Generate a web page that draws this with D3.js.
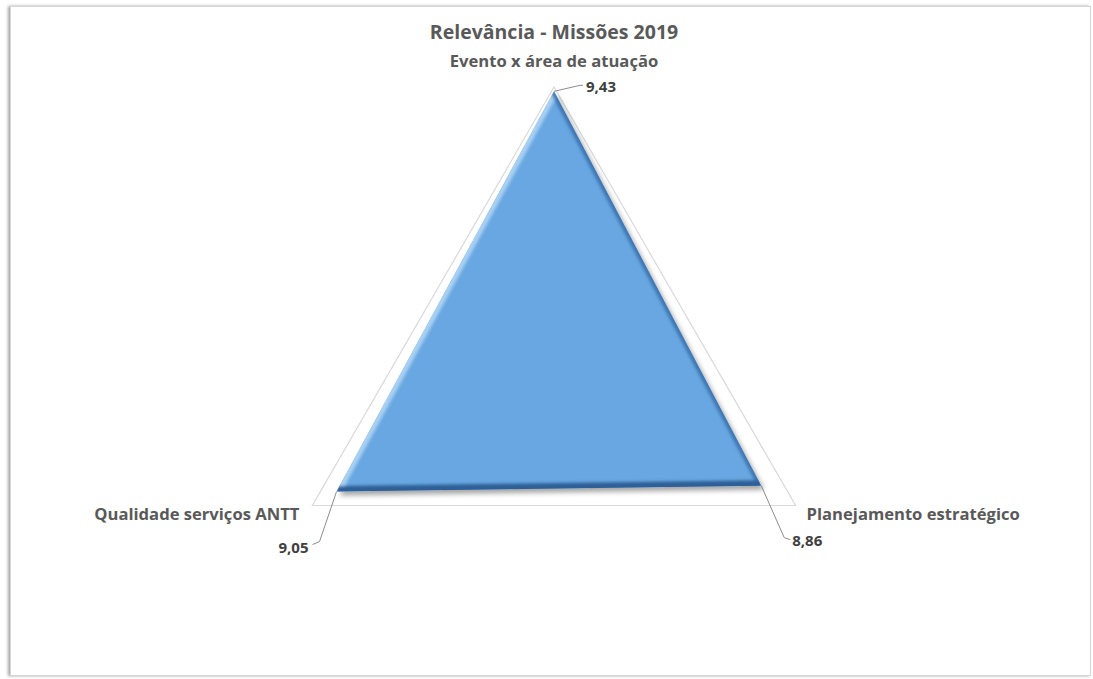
<!DOCTYPE html>
<html>
<head>
<meta charset="utf-8">
<script src="https://cdn.jsdelivr.net/npm/d3@7"></script>
<style>
  html, body { margin: 0; padding: 0; background: #ffffff; }
  svg { display: block; }
</style>
</head>
<body>
<script>
// ---- data ----
const title = "Relevância - Missões 2019";
const categories = ["Evento x área de atuação", "Planejamento estratégico", "Qualidade serviços ANTT"];
const values = [9.43, 8.86, 9.05];
const valueLabels = ["9,43", "8,86", "9,05"];
const axisRange = [5, 9.5];

// ---- layout ----
const W = 1093, H = 679;
const cx = 554, cy = 366, R = 279;
const font = "'Open Sans', 'Liberation Sans', sans-serif";

const svg = d3.select("body").append("svg").attr("width", W).attr("height", H);
const defs = svg.append("defs");

// chart area border with soft shadow
const fs = defs.append("filter").attr("id", "boxShadow").attr("x", "-5%").attr("y", "-5%").attr("width", "110%").attr("height", "110%");
fs.append("feDropShadow").attr("dx", -2).attr("dy", 0).attr("stdDeviation", 1.5).attr("flood-color", "#000").attr("flood-opacity", 0.35);
svg.append("rect").attr("x", 10.5).attr("y", 6.5).attr("width", 1080).attr("height", 669)
  .attr("fill", "#fff").attr("stroke", "#d6d6d6").attr("stroke-width", 1).attr("filter", "url(#boxShadow)");

const r = d3.scaleLinear().domain(axisRange).range([0, R]);
const angle = d3.scalePoint().domain(categories).range([0, 2 * Math.PI * (categories.length - 1) / categories.length]);
function pt(cat, rad) {
  const a = angle(cat) - Math.PI / 2;
  return [cx + rad * Math.cos(a), cy + rad * Math.sin(a)];
}

// outer grid triangle
const gridPts = categories.map(c => pt(c, r(axisRange[1])));
svg.append("polygon").attr("points", gridPts.map(p => p.join(",")).join(" "))
  .attr("fill", "none").attr("stroke", "#d9d9d9").attr("stroke-width", 1.2);

// data polygon
const dataPts = categories.map((c, i) => pt(c, r(values[i])));
const pts = dataPts.map(p => p.join(",")).join(" ");

const sh = defs.append("filter").attr("id", "dataShadow").attr("x", "-10%").attr("y", "-10%").attr("width", "120%").attr("height", "120%");
sh.append("feDropShadow").attr("dx", 3).attr("dy", 4).attr("stdDeviation", 2.5).attr("flood-color", "#000").attr("flood-opacity", 0.35);

const blur = defs.append("filter").attr("id", "bevelBlur");
blur.append("feGaussianBlur").attr("stdDeviation", 1.6);

defs.append("clipPath").attr("id", "dataClip").append("polygon").attr("points", pts);

svg.append("polygon").attr("points", pts).attr("fill", "#67a7e1").attr("filter", "url(#dataShadow)");

const bevel = svg.append("g").attr("clip-path", "url(#dataClip)").append("g").attr("filter", "url(#bevelBlur)");
const [pTop, pRight, pLeft] = dataPts;
// left edge highlight
bevel.append("line").attr("x1", pTop[0]).attr("y1", pTop[1]).attr("x2", pLeft[0]).attr("y2", pLeft[1])
  .attr("stroke", "#a9d0f3").attr("stroke-width", 9);
// right edge darker
bevel.append("line").attr("x1", pTop[0]).attr("y1", pTop[1]).attr("x2", pRight[0]).attr("y2", pRight[1])
  .attr("stroke", "#3f77b3").attr("stroke-width", 7);
// bottom edge dark
bevel.append("line").attr("x1", pLeft[0]).attr("y1", pLeft[1]).attr("x2", pRight[0]).attr("y2", pRight[1])
  .attr("stroke", "#2d5f96").attr("stroke-width", 11);

// title
svg.append("text").attr("x", cx).attr("y", 39).attr("text-anchor", "middle")
  .attr("font-family", font).attr("font-weight", "bold").attr("font-size", 19.5).attr("fill", "#595959")
  .text(title);

// category labels
const catOffsets = [[0, -20, "middle"], [11, 14, "start"], [-13, 14, "end"]];
categories.forEach((c, i) => {
  const p = gridPts[i];
  svg.append("text").attr("x", p[0] + catOffsets[i][0]).attr("y", p[1] + catOffsets[i][1])
    .attr("text-anchor", catOffsets[i][2])
    .attr("font-family", font).attr("font-weight", "bold").attr("font-size", 16.6).attr("fill", "#595959")
    .text(c);
});

// value labels with leader lines
const leader = [
  [[26, -6], [29, -6]],
  [[23, 52], [29, 54]],
  [[-17, 50], [-24, 53]]
];
const valOffsets = [[32, 1, "start"], [31, 60, "start"], [-28, 61, "end"]];
categories.forEach((c, i) => {
  const p = dataPts[i];
  const path = d3.path();
  path.moveTo(p[0], p[1]);
  leader[i].forEach(o => path.lineTo(p[0] + o[0], p[1] + o[1]));
  svg.append("path").attr("d", path.toString()).attr("fill", "none").attr("stroke", "#8c8c8c").attr("stroke-width", 1);
  svg.append("text").attr("x", p[0] + valOffsets[i][0]).attr("y", p[1] + valOffsets[i][1])
    .attr("text-anchor", valOffsets[i][2])
    .attr("font-family", font).attr("font-weight", "bold").attr("font-size", 15).attr("fill", "#404040")
    .text(valueLabels[i]);
});
</script>
</body>
</html>
